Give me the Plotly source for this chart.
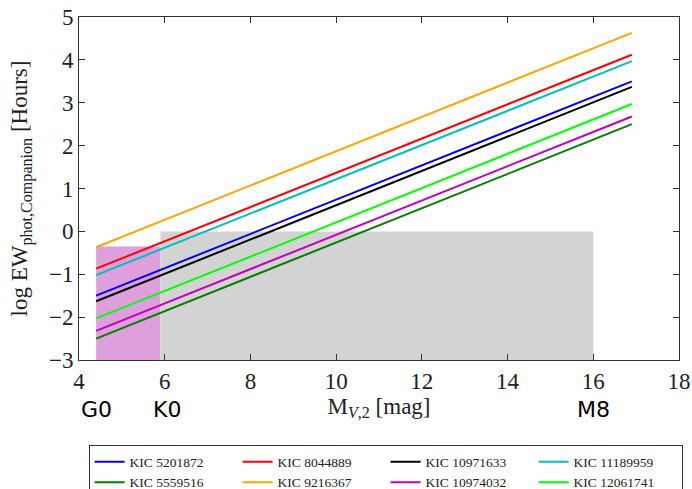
import plotly.graph_objects as go

names = ["KIC 5201872", "KIC 8044889", "KIC 10971633", "KIC 11189959",
         "KIC 5559516", "KIC 9216367", "KIC 10974032", "KIC 12061741"]
colors = ["#0000ff", "#ff0000", "#000000", "#00bfbf",
          "#007f00", "#ffa500", "#bf00bf", "#00ff00"]
x_start = [4.4] * 8
x_end = [16.9] * 8
y_start = [-1.50, -0.87, -1.63, -1.02, -2.50, -0.37, -2.32, -2.03]
y_end = [3.50, 4.12, 3.37, 3.97, 2.50, 4.63, 2.68, 2.97]

# shaded regions
pink_x = [4.4, 5.9]
pink_y = [-3, -0.35]
gray_x = [5.9, 16.0]
gray_y = [-3, 0.0]

spec_labels = ["G0", "K0", "M8"]
spec_x = [4.4, 6.05, 16.0]

serif = "Liberation Serif"

fig = go.Figure()
fig.add_shape(type="rect", x0=pink_x[0], x1=pink_x[1], y0=pink_y[0], y1=pink_y[1],
              fillcolor="#dda0dd", line_width=0, layer="below")
fig.add_shape(type="rect", x0=gray_x[0], x1=gray_x[1], y0=gray_y[0], y1=gray_y[1],
              fillcolor="#d3d3d3", line_width=0, layer="below")

for n, c, xs, xe, ys, ye in zip(names, colors, x_start, x_end, y_start, y_end):
    fig.add_trace(go.Scatter(x=[xs, xe], y=[ys, ye], mode="lines", name=n,
                             line=dict(color=c, width=2)))

for lab, xv in zip(spec_labels, spec_x):
    fig.add_annotation(x=xv, y=-0.145, xref="x", yref="paper", text=lab,
                       showarrow=False, yanchor="middle", xanchor="center",
                       font=dict(family="DejaVu Sans", size=22, color="black"))

axis_common = dict(showgrid=False, zeroline=False, showline=True, linecolor="#333333",
                   linewidth=1, mirror="ticks", ticks="inside", ticklen=6,
                   tickcolor="#333333", automargin=False, ticklabeloverflow="allow",
                   tickfont=dict(family=serif, size=23, color="#222222"))

fig.update_layout(
    width=692, height=489,
    font=dict(family=serif, size=23, color="#222222"),
    margin=dict(l=79, r=13, t=17, b=129, autoexpand=False),
    paper_bgcolor="white", plot_bgcolor="white",
    xaxis=dict(range=[4, 18], dtick=2, tick0=4,
               title=dict(text="M<sub><i>V</i>,2</sub> [mag]", standoff=0,
                          font=dict(family=serif, size=23, color="#222222")),
               **axis_common),
    yaxis=dict(range=[-3, 5], dtick=1,
               title=dict(text="log EW<sub>phot,Companion</sub> [Hours]", standoff=14,
                          font=dict(family=serif, size=23, color="#222222")),
               **axis_common),
    legend=dict(orientation="h", x=0.511, xanchor="center", y=-0.249, yanchor="top",
                entrywidth=103, entrywidthmode="pixels",
                bordercolor="#333333", borderwidth=1,
                font=dict(family=serif, size=13.5, color="#222222"),
                tracegroupgap=0, itemwidth=30),
    showlegend=True,
)

fig.write_html("out.html")
